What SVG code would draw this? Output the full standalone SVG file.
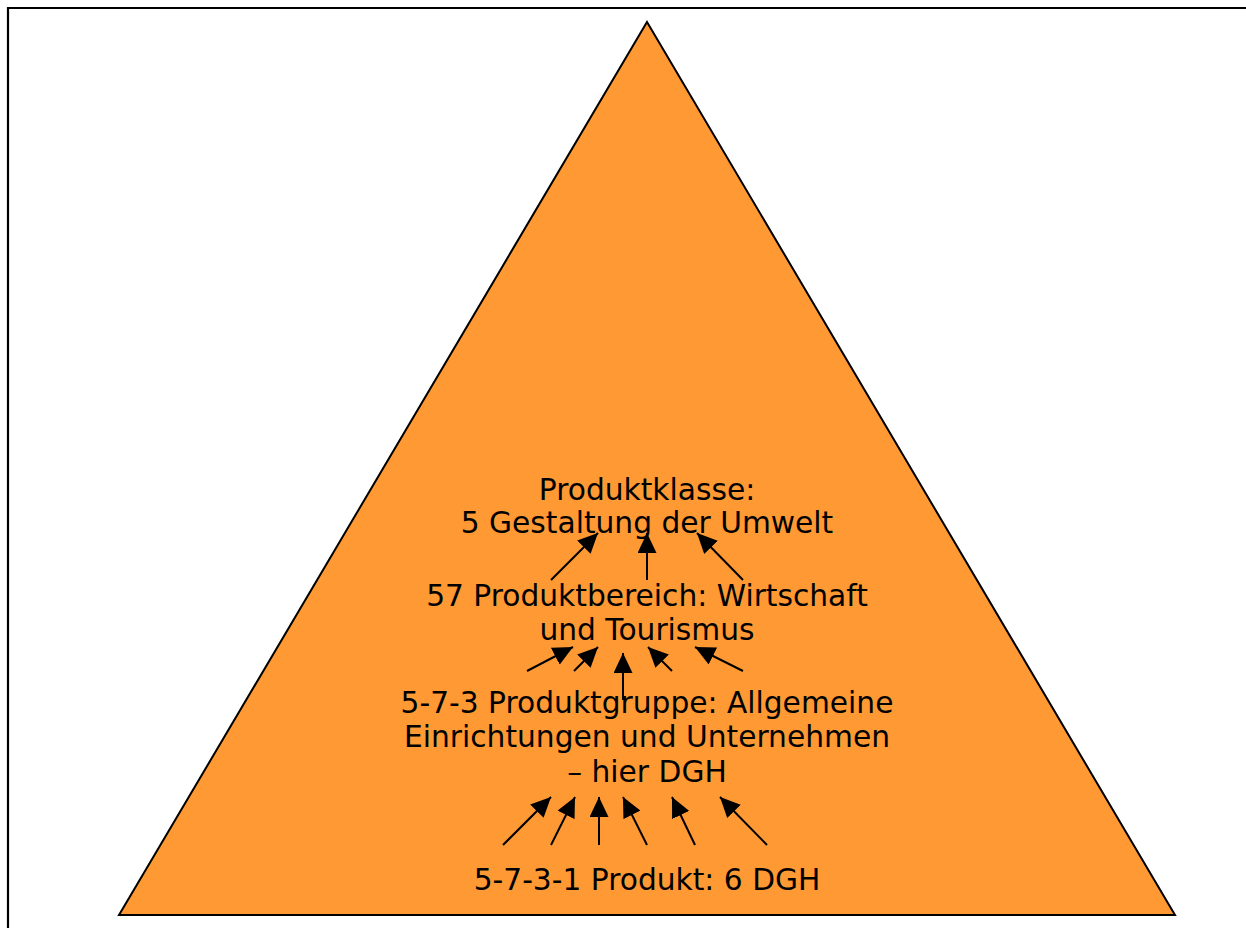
<svg xmlns="http://www.w3.org/2000/svg" width="1246" height="928" viewBox="0 0 1246 928">
<style>
.lbl{font-family:"DejaVu Sans",Verdana,sans-serif;font-size:29.7px;fill:#000;text-anchor:middle}
.con line{stroke:#000;stroke-width:2;marker-end:url(#ah)}
</style>
<defs>
<marker id="ah" markerUnits="userSpaceOnUse" markerWidth="20" markerHeight="19" refX="20" refY="9.5" orient="auto" viewBox="0 0 20 19">
<path d="M0,0 L20,9.5 L0,19 z" fill="#000"/>
</marker>
</defs>
<rect width="1246" height="928" fill="#fff"/>
<path d="M8,930 V8 H1248" fill="none" stroke="#000" stroke-width="2.2"/>
<g id="pyramid">
<polygon points="647,22 1175,915 119,915" fill="#ff9933" stroke="#000" stroke-width="2"/>
</g>
<g id="klasse">
<text class="lbl" x="647" y="500">Produktklasse:</text>
<text class="lbl" x="647" y="533">5 Gestaltung der Umwelt</text>
</g>
<g id="bereich">
<text class="lbl" x="647" y="606">57 Produktbereich: Wirtschaft</text>
<text class="lbl" x="647" y="640">und Tourismus</text>
</g>
<g id="gruppe">
<text class="lbl" x="647" y="713">5-7-3 Produktgruppe: Allgemeine</text>
<text class="lbl" x="647" y="747">Einrichtungen und Unternehmen</text>
<text class="lbl" x="647" y="782">– hier DGH</text>
</g>
<g id="produkt">
<text class="lbl" x="647" y="890">5-7-3-1 Produkt: 6 DGH</text>
</g>
<g id="connectors" class="con">
<line x1="551" y1="580" x2="598" y2="533"/>
<line x1="647" y1="580" x2="647" y2="533"/>
<line x1="743" y1="580" x2="697" y2="533"/>
<line x1="527" y1="671" x2="573" y2="647"/>
<line x1="574" y1="671" x2="598" y2="647"/>
<line x1="623" y1="700" x2="623" y2="653"/>
<line x1="672" y1="671" x2="648" y2="647"/>
<line x1="743" y1="671" x2="695" y2="647"/>
<line x1="503" y1="845" x2="551" y2="797"/>
<line x1="551" y1="845" x2="575" y2="797"/>
<line x1="599" y1="845" x2="599" y2="797"/>
<line x1="647" y1="845" x2="623" y2="797"/>
<line x1="695" y1="845" x2="672" y2="797"/>
<line x1="767" y1="845" x2="720" y2="797"/>
</g>
</svg>
